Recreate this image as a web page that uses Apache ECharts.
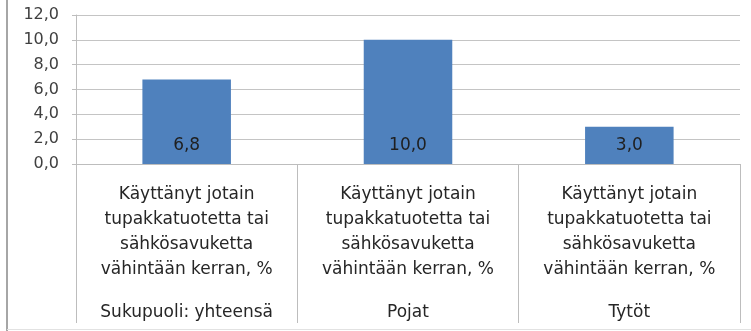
<!DOCTYPE html>
<html>
<head>
<meta charset="utf-8">
<script src="https://cdn.jsdelivr.net/npm/echarts@6/dist/echarts.min.js"></script>
<style>
  html, body { margin: 0; padding: 0; background: #ffffff; }
  #chart { width: 751px; height: 331px; }
</style>
</head>
<body>
<div id="chart"></div>
<script>
// Measure shown for every group (first level of the category axis)
const measureLines = ['Käyttänyt jotain', 'tupakkatuotetta tai', 'sähkösavuketta', 'vähintään kerran, %'];
// Groups (second level of the category axis)
const groups = ['Sukupuoli: yhteensä', 'Pojat', 'Tytöt'];
// Share of respondents, %
const values = [6.8, 10.0, 3.0];
// Value axis ticks
const yMin = 0, yMax = 12, yStep = 2;

const fmt = v => v.toFixed(1).replace('.', ',');
const FONT = 'DejaVu Sans';

const chart = echarts.init(document.getElementById('chart'), null, { renderer: 'canvas' });

chart.setOption({
  animation: false,
  backgroundColor: '#ffffff',
  grid: { left: 76, right: 11, top: 15, bottom: 167, containLabel: false },
  xAxis: {
    type: 'category',
    data: groups,
    boundaryGap: true,
    axisLine: { show: true, lineStyle: { color: '#bdbdbd', width: 1 } },
    axisTick: { show: true, interval: 0, length: 159, lineStyle: { color: '#bdbdbd' } },
    axisLabel: {
      interval: 0,
      margin: 18,
      color: '#262626',
      fontFamily: FONT,
      formatter: g => measureLines.map(l => '{a|' + l + '}').join('\n') + '\n{gap| }\n{a|' + g + '}',
      rich: {
        a: { fontSize: 17, lineHeight: 25, color: '#262626', fontFamily: FONT, align: 'center' },
        gap: { fontSize: 10, lineHeight: 18 }
      }
    },
    splitLine: { show: false }
  },
  yAxis: {
    type: 'value',
    min: yMin,
    max: yMax,
    interval: yStep,
    axisLine: { show: true, lineStyle: { color: '#bdbdbd' } },
    axisTick: { show: true, length: 4, lineStyle: { color: '#bdbdbd' } },
    axisLabel: {
      margin: 17,
      color: '#404040',
      fontSize: 16,
      fontFamily: FONT,
      formatter: v => fmt(v)
    },
    splitLine: { show: true, lineStyle: { color: '#c4c4c4', width: 1 } }
  },
  series: [{
    type: 'bar',
    data: values,
    barWidth: '40%',
    itemStyle: { color: '#4f81bd' },
    label: {
      show: true,
      position: 'insideBottom',
      distance: 10,
      color: '#1f1f1f',
      fontSize: 17,
      fontFamily: FONT,
      formatter: p => fmt(p.value)
    }
  }],
  graphic: [
    { type: 'line', shape: { x1: 7, y1: 0, x2: 7, y2: 331 }, style: { stroke: '#a6a6a6', lineWidth: 2 } },
    { type: 'line', shape: { x1: 7, y1: 329.5, x2: 751, y2: 329.5 }, style: { stroke: '#e2e2e2', lineWidth: 1 } }
  ]
});
</script>
</body>
</html>
